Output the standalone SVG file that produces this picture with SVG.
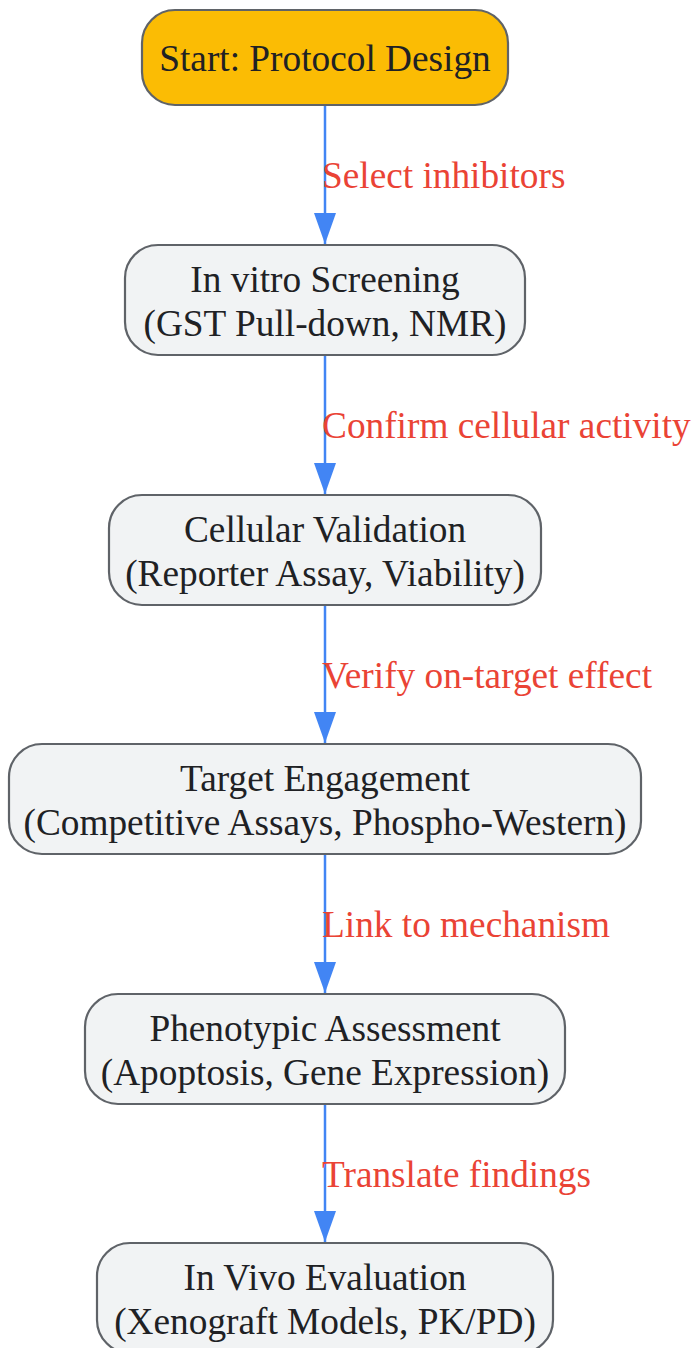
<svg xmlns="http://www.w3.org/2000/svg" width="694" height="1348" viewBox="0 0 694 1348">
<defs>
<style>
.node rect{fill:#f1f3f4;stroke:#5f6368;stroke-width:2.2}
#start rect{fill:#fbbc04}
.node text{font-family:"Liberation Serif","Times New Roman",serif;font-size:37.3px;fill:#202124;text-anchor:middle}
.edge{stroke:#4285f4;stroke-width:2.5;fill:none;marker-end:url(#arr)}
.elabel{font-family:"Liberation Serif","Times New Roman",serif;font-size:37.3px;fill:#ea4335}
</style>
<marker id="arr" markerUnits="userSpaceOnUse" markerWidth="31" markerHeight="22" refX="31" refY="11" orient="auto" viewBox="0 0 31 22">
<path d="M0,0 L31,11 L0,22 Z" fill="#4285f4"/>
</marker>
</defs>
<rect width="694" height="1348" fill="#ffffff"/>
<g id="connectors">
<path class="edge" d="M325,105 V244"/>
<text class="elabel" x="322" y="188">Select inhibitors</text>
<path class="edge" d="M325,355 V494"/>
<text class="elabel" x="322" y="438">Confirm cellular activity</text>
<path class="edge" d="M325,605 V743"/>
<text class="elabel" x="322" y="688">Verify on-target effect</text>
<path class="edge" d="M325,854 V993"/>
<text class="elabel" x="322" y="937">Link to mechanism</text>
<path class="edge" d="M325,1104 V1242"/>
<text class="elabel" x="322" y="1187">Translate findings</text>
</g>
<g id="start" class="node">
<rect x="142" y="10" width="366" height="95" rx="33"/>
<text x="325" y="71">Start: Protocol Design</text>
</g>
<g id="screening" class="node">
<rect x="125" y="245" width="400" height="110" rx="33"/>
<text x="325" y="292">In vitro Screening</text>
<text x="325" y="336">(GST Pull-down, NMR)</text>
</g>
<g id="cellular" class="node">
<rect x="109" y="495" width="432" height="110" rx="33"/>
<text x="325" y="542">Cellular Validation</text>
<text x="325" y="586">(Reporter Assay, Viability)</text>
</g>
<g id="target" class="node">
<rect x="9" y="744" width="632" height="110" rx="33"/>
<text x="325" y="791">Target Engagement</text>
<text x="325" y="835">(Competitive Assays, Phospho-Western)</text>
</g>
<g id="phenotypic" class="node">
<rect x="85" y="994" width="480" height="110" rx="33"/>
<text x="325" y="1041">Phenotypic Assessment</text>
<text x="325" y="1085">(Apoptosis, Gene Expression)</text>
</g>
<g id="invivo" class="node">
<rect x="97" y="1243" width="456" height="110" rx="33"/>
<text x="325" y="1290">In Vivo Evaluation</text>
<text x="325" y="1334">(Xenograft Models, PK/PD)</text>
</g>
</svg>
